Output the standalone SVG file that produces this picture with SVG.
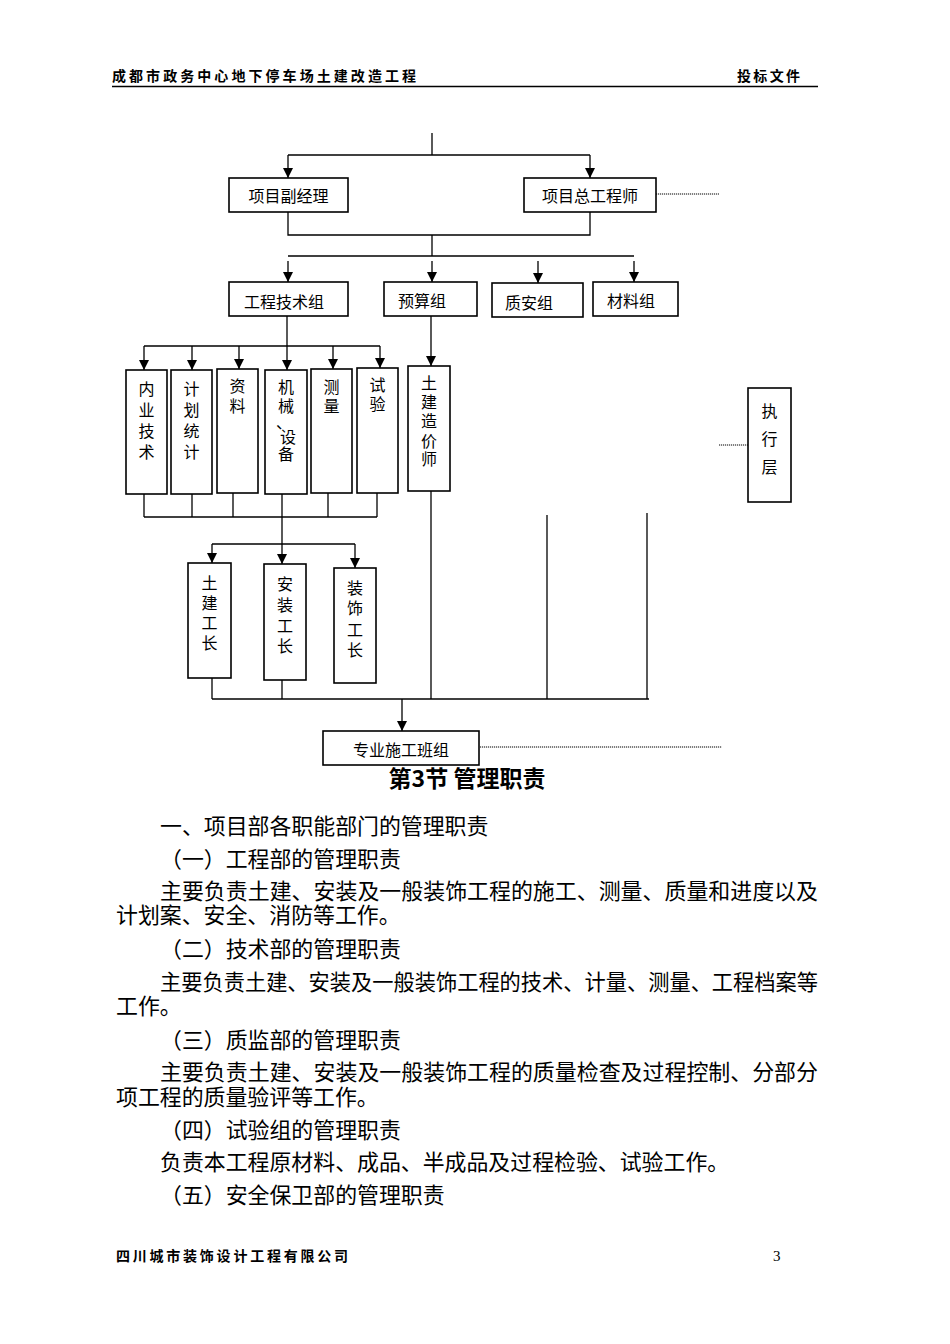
<svg xmlns="http://www.w3.org/2000/svg" width="950" height="1344" viewBox="0 0 950 1344">
<style>
  .bg{fill:#fff}
  .box{fill:#fff;stroke:#000;stroke-width:1.6}
  .ln{fill:none;stroke:#000;stroke-width:1.3}
  .dot{fill:none;stroke:#000;stroke-width:1;stroke-dasharray:1.2 0.8}
  .lbl{font-family:"Noto Sans CJK SC","Liberation Sans",sans-serif;font-size:16px;fill:#000;text-anchor:middle;dominant-baseline:central}
  .vt{font-family:"Noto Sans CJK SC","Liberation Sans",sans-serif;font-size:16px;fill:#000;text-anchor:middle;dominant-baseline:central}
  .hdr{font-family:"Noto Sans CJK SC","Liberation Sans",sans-serif;font-size:14px;font-weight:bold;fill:#000}
  .body{font-family:"Noto Sans CJK SC","Liberation Serif",serif;font-size:21.9px;fill:#000;dominant-baseline:central}
  .title{font-family:"Noto Sans CJK SC","Liberation Sans",sans-serif;font-size:23px;font-weight:bold;fill:#000;text-anchor:middle;dominant-baseline:central}
</style>
<defs>
  <marker id="arr" markerUnits="userSpaceOnUse" markerWidth="10" markerHeight="11" refX="10" refY="5" orient="auto">
    <path d="M0,0 L10,5 L0,10 z" fill="#000"/>
  </marker>
</defs>
<rect class="bg" x="0" y="0" width="950" height="1344"/>

<!-- header -->
<g id="header">
  <text class="hdr" x="112" y="81" textLength="304" lengthAdjust="spacing">成都市政务中心地下停车场土建改造工程</text>
  <text class="hdr" x="737" y="81" textLength="63" lengthAdjust="spacing">投标文件</text>
  <line x1="112" y1="86.5" x2="818" y2="86.5" stroke="#000" stroke-width="1.6"/>
</g>

<!-- connectors -->
<g id="connectors">
  <line class="ln" x1="432" y1="133" x2="432" y2="155"/>
  <polyline class="ln" points="288,155 590,155"/>
  <line class="ln" x1="288" y1="155" x2="288" y2="178" marker-end="url(#arr)"/>
  <line class="ln" x1="590" y1="155" x2="590" y2="178" marker-end="url(#arr)"/>
  <polyline class="ln" points="288,212 288,235 590,235 590,212"/>
  <line class="ln" x1="432" y1="235" x2="432" y2="256"/>
  <line class="ln" x1="288" y1="256" x2="634" y2="256"/>
  <line class="ln" x1="288" y1="261" x2="288" y2="282" marker-end="url(#arr)"/>
  <line class="ln" x1="432" y1="261" x2="432" y2="282" marker-end="url(#arr)"/>
  <line class="ln" x1="538" y1="261" x2="538" y2="283" marker-end="url(#arr)"/>
  <line class="ln" x1="634" y1="261" x2="634" y2="282" marker-end="url(#arr)"/>

  <line class="ln" x1="287" y1="316" x2="287" y2="346"/>
  <line class="ln" x1="144" y1="346" x2="380" y2="346"/>
  <line class="ln" x1="144" y1="346" x2="144" y2="370" marker-end="url(#arr)"/>
  <line class="ln" x1="192" y1="346" x2="192" y2="370" marker-end="url(#arr)"/>
  <line class="ln" x1="239" y1="346" x2="239" y2="369" marker-end="url(#arr)"/>
  <line class="ln" x1="287" y1="346" x2="287" y2="370" marker-end="url(#arr)"/>
  <line class="ln" x1="333" y1="346" x2="333" y2="369" marker-end="url(#arr)"/>
  <line class="ln" x1="380" y1="346" x2="380" y2="368" marker-end="url(#arr)"/>
  <line class="ln" x1="431" y1="316" x2="431" y2="366" marker-end="url(#arr)"/>

  <line class="ln" x1="144" y1="494" x2="144" y2="517"/>
  <line class="ln" x1="192" y1="494" x2="192" y2="517"/>
  <line class="ln" x1="233" y1="493" x2="233" y2="517"/>
  <line class="ln" x1="282" y1="494" x2="282" y2="544"/>
  <line class="ln" x1="328" y1="493" x2="328" y2="517"/>
  <line class="ln" x1="377" y1="493" x2="377" y2="517"/>
  <line class="ln" x1="144" y1="517" x2="377" y2="517"/>
  <line class="ln" x1="212" y1="544" x2="355" y2="544"/>
  <line class="ln" x1="212" y1="544" x2="212" y2="563" marker-end="url(#arr)"/>
  <line class="ln" x1="282" y1="544" x2="282" y2="564" marker-end="url(#arr)"/>
  <line class="ln" x1="355" y1="544" x2="355" y2="568" marker-end="url(#arr)"/>

  <line class="ln" x1="212" y1="678" x2="212" y2="699"/>
  <line class="ln" x1="282" y1="680" x2="282" y2="699"/>
  <line class="ln" x1="431" y1="491" x2="431" y2="699"/>
  <line class="ln" x1="547" y1="515" x2="547" y2="699"/>
  <line class="ln" x1="647" y1="513" x2="647" y2="699"/>
  <line class="ln" x1="212" y1="699" x2="649" y2="699"/>
  <line class="ln" x1="402" y1="699" x2="402" y2="731" marker-end="url(#arr)"/>

  <line class="dot" x1="656" y1="194" x2="719" y2="194"/>
  <line class="dot" x1="719" y1="445" x2="748" y2="445"/>
  <line class="dot" x1="480" y1="747" x2="722" y2="747"/>
</g>

<g id="n-fujingli">
  <rect class="box" x="229" y="178" width="119" height="34"/>
  <text class="lbl" x="288.5" y="195">项目副经理</text>
</g>
<g id="n-zonggong">
  <rect class="box" x="524" y="178" width="132" height="34"/>
  <text class="lbl" x="590" y="195">项目总工程师</text>
</g>
<g id="n-jishuzu">
  <rect class="box" x="229" y="282" width="119" height="34"/>
  <text class="lbl" x="284" y="301">工程技术组</text>
</g>
<g id="n-yusuan">
  <rect class="box" x="384" y="282" width="93" height="34"/>
  <text class="lbl" x="422" y="300">预算组</text>
</g>
<g id="n-zhian">
  <rect class="box" x="492" y="283" width="91" height="34"/>
  <text class="lbl" x="529" y="302">质安组</text>
</g>
<g id="n-cailiao">
  <rect class="box" x="593" y="282" width="85" height="34"/>
  <text class="lbl" x="631" y="300">材料组</text>
</g>

<g id="n-neiye">
  <rect class="box" x="126" y="370" width="41" height="124"/>
  <text class="vt" x="146.5" y="388">内</text><text class="vt" x="146.5" y="409">业</text><text class="vt" x="146.5" y="430">技</text><text class="vt" x="146.5" y="451">术</text>
</g>
<g id="n-jihua">
  <rect class="box" x="171" y="370" width="41" height="124"/>
  <text class="vt" x="191.5" y="388">计</text><text class="vt" x="191.5" y="409">划</text><text class="vt" x="191.5" y="430">统</text><text class="vt" x="191.5" y="451">计</text>
</g>
<g id="n-ziliao">
  <rect class="box" x="217" y="369" width="41" height="124"/>
  <text class="vt" x="237.5" y="385">资</text><text class="vt" x="237.5" y="405">料</text>
</g>
<g id="n-jixie">
  <rect class="box" x="265" y="370" width="42" height="124"/>
  <text class="vt" x="286" y="386">机</text><text class="vt" x="286" y="405">械</text><text class="vt" x="284" y="421">、</text><text class="vt" x="288" y="436">设</text><text class="vt" x="286" y="453">备</text>
</g>
<g id="n-celiang">
  <rect class="box" x="311" y="369" width="41" height="124"/>
  <text class="vt" x="331.5" y="386">测</text><text class="vt" x="331.5" y="405">量</text>
</g>
<g id="n-shiyan">
  <rect class="box" x="357" y="368" width="41" height="125"/>
  <text class="vt" x="377.5" y="384">试</text><text class="vt" x="377.5" y="403">验</text>
</g>
<g id="n-zaojia">
  <rect class="box" x="408" y="366" width="42" height="125"/>
  <text class="vt" x="429" y="382">土</text><text class="vt" x="429" y="401">建</text><text class="vt" x="429" y="420">造</text><text class="vt" x="429" y="440">价</text><text class="vt" x="429" y="458">师</text>
</g>
<g id="n-zhixing">
  <rect class="box" x="748" y="388" width="43" height="114"/>
  <text class="vt" x="769.5" y="410">执</text><text class="vt" x="769.5" y="438">行</text><text class="vt" x="769.5" y="466">层</text>
</g>

<g id="n-tujian">
  <rect class="box" x="188" y="563" width="43" height="115"/>
  <text class="vt" x="209.5" y="582">土</text><text class="vt" x="209.5" y="602">建</text><text class="vt" x="209.5" y="622">工</text><text class="vt" x="209.5" y="642">长</text>
</g>
<g id="n-anzhuang">
  <rect class="box" x="264" y="564" width="42" height="116"/>
  <text class="vt" x="285" y="583">安</text><text class="vt" x="285" y="604">装</text><text class="vt" x="285" y="625">工</text><text class="vt" x="285" y="645">长</text>
</g>
<g id="n-zhuangshi">
  <rect class="box" x="334" y="568" width="42" height="115"/>
  <text class="vt" x="355" y="587">装</text><text class="vt" x="355" y="607">饰</text><text class="vt" x="355" y="629">工</text><text class="vt" x="355" y="649">长</text>
</g>
<g id="n-banzu">
  <rect class="box" x="323" y="731" width="156" height="34"/>
  <text class="lbl" x="401" y="749">专业施工班组</text>
</g>

<!-- body text -->
<g id="text-body">
  <text class="title" x="467" y="777">第3节 管理职责</text>
  <text class="body" x="160" y="824">一、项目部各职能部门的管理职责</text>
  <text class="body" x="160" y="857">（一）工程部的管理职责</text>
  <text class="body" x="160" y="889" textLength="658" lengthAdjust="spacingAndGlyphs">主要负责土建、安装及一般装饰工程的施工、测量、质量和进度以及</text>
  <text class="body" x="116" y="913">计划案、安全、消防等工作。</text>
  <text class="body" x="160" y="947">（二）技术部的管理职责</text>
  <text class="body" x="160" y="980" textLength="658" lengthAdjust="spacingAndGlyphs">主要负责土建、安装及一般装饰工程的技术、计量、测量、工程档案等</text>
  <text class="body" x="116" y="1004">工作。</text>
  <text class="body" x="160" y="1038">（三）质监部的管理职责</text>
  <text class="body" x="160" y="1070" textLength="658" lengthAdjust="spacingAndGlyphs">主要负责土建、安装及一般装饰工程的质量检查及过程控制、分部分</text>
  <text class="body" x="116" y="1095">项工程的质量验评等工作。</text>
  <text class="body" x="160" y="1128">（四）试验组的管理职责</text>
  <text class="body" x="160" y="1160">负责本工程原材料、成品、半成品及过程检验、试验工作。</text>
  <text class="body" x="160" y="1193">（五）安全保卫部的管理职责</text>
</g>

<!-- footer -->
<g id="footer">
  <text class="hdr" x="116" y="1261" textLength="232" lengthAdjust="spacing">四川城市装饰设计工程有限公司</text>
  <text x="773" y="1261" font-family="Liberation Serif, serif" font-size="15" fill="#000">3</text>
</g>
</svg>
